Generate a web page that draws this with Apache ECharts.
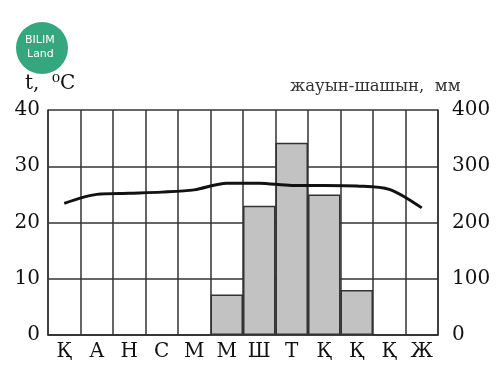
<!DOCTYPE html>
<html><head><meta charset="utf-8">
<script src="https://cdn.jsdelivr.net/npm/echarts@6/dist/echarts.min.js"></script>
<style>html,body{margin:0;padding:0;background:#fff}#c{width:500px;height:375px}</style>
</head><body><div id="c"></div>
<script>
const months = ['Қ','А','Н','С','М','М','Ш','Т','Қ','Қ','Қ','Ж'];
const temperature = [23.4, 25.0, 25.2, 25.4, 25.8, 27.0, 27.0, 26.6, 26.6, 26.5, 25.9, 22.6];
const precipitation = [0, 0, 0, 0, 0, 72, 230, 342, 250, 80, 0, 0];
const tempTicks = [0, 10, 20, 30, 40];
const precTicks = [0, 100, 200, 300, 400];

const chart = echarts.init(document.getElementById('c'), null, {renderer:'canvas'});
const serif = '"DejaVu Serif", "Liberation Serif", serif';
const lineCol = '#333';
chart.setOption({
  animation:false,
  grid:{left:48, right:62, top:110, bottom:40},
  xAxis:{type:'category', data:months, boundaryGap:true,
    axisLine:{lineStyle:{color:lineCol, width:1.5}},
    axisTick:{show:false},
    splitLine:{show:true, lineStyle:{color:lineCol, width:1.5}},
    axisLabel:{color:'#111', fontFamily:serif, fontSize:20, margin:7}
  },
  yAxis:[
    {type:'value', min:tempTicks[0], max:tempTicks[tempTicks.length-1], interval:10,
     axisLine:{show:true, lineStyle:{color:lineCol, width:1.5}}, axisTick:{show:false},
     splitLine:{lineStyle:{color:lineCol, width:1.5}},
     axisLabel:{color:'#111', fontFamily:serif, fontSize:20, margin:8}},
    {type:'value', min:precTicks[0], max:precTicks[precTicks.length-1], interval:100,
     axisLine:{show:true, lineStyle:{color:lineCol, width:1.5}}, axisTick:{show:false},
     splitLine:{show:false},
     axisLabel:{color:'#111', fontFamily:serif, fontSize:20, margin:14}}
  ],
  series:[
    {type:'bar', yAxisIndex:1, data:precipitation, barWidth:'100%', barCategoryGap:'0%',
     itemStyle:{color:'#c2c2c2', borderColor:lineCol, borderWidth:1.5}, z:2},
    {type:'line', yAxisIndex:0, data:temperature, smooth:0.3, showSymbol:false,
     lineStyle:{color:'#111', width:3}, z:5}
  ],
  graphic:[
    {type:'circle', shape:{cx:42, cy:48, r:26}, style:{fill:'#35a77e'}},
    {type:'text', left:25, top:35, style:{text:'BILIM', fill:'#fff', font:'11px "DejaVu Sans", sans-serif'}},
    {type:'text', left:27, top:49, style:{text:'Land', fill:'#fff', font:'11px "DejaVu Sans", sans-serif'}},
    {type:'text', left:25, top:74, style:{text:'t,', fill:'#111', font:'20px '+serif}},
    {type:'text', left:52, top:74, style:{text:'⁰C', fill:'#111', font:'20px '+serif}},
    {type:'text', left:290, top:78, style:{text:'жауын-шашын,  мм', fill:'#333', font:'16.5px '+serif}}
  ]
});
</script></body></html>
